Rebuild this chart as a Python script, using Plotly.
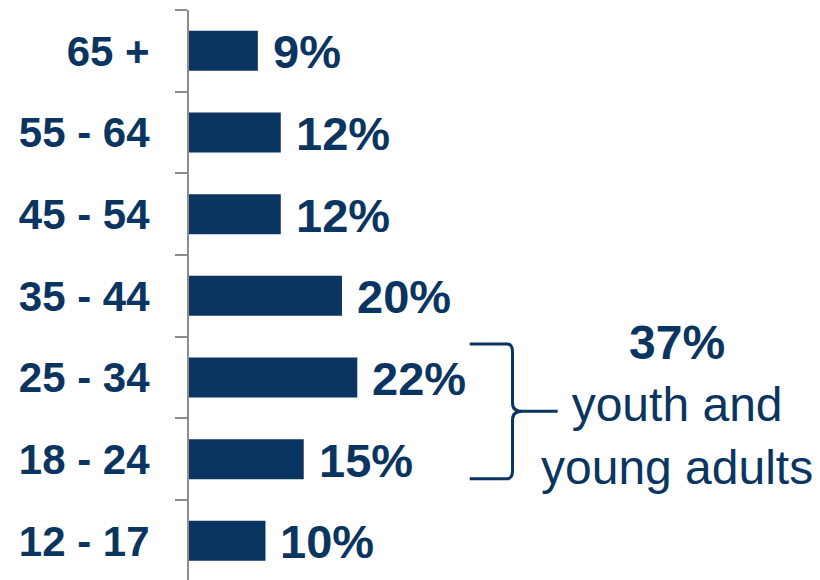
import plotly.graph_objects as go

# Age groups listed bottom-to-top, with the share of each group
age_groups = ["12 - 17", "18 - 24", "25 - 34", "35 - 44", "45 - 54", "55 - 64", "65 +"]
shares = [10, 15, 22, 20, 12, 12, 9]

# Combined share called out for the two youngest adult groups
callout_value = 37
callout_groups = ["18 - 24", "25 - 34"]

NAVY = "#0B3561"
GREY = "#8C8C8C"
FONT = "Liberation Sans, Arial, sans-serif"

fig = go.Figure(
    go.Bar(
        y=age_groups,
        x=shares,
        orientation="h",
        marker=dict(color=NAVY, line=dict(width=0)),
        width=0.49,
        hoverinfo="skip",
    )
)

# Value labels to the right of each bar
for grp, val in zip(age_groups, shares):
    fig.add_annotation(
        x=val, y=grp, xref="x", yref="y",
        text=f"{val}%", showarrow=False,
        xanchor="left", yanchor="middle", xshift=13, yshift=-1,
        font=dict(family=FONT, size=47, color=NAVY, weight="bold"),
    )

# Bracket grouping the 18-24 and 25-34 bars
hi = age_groups.index(callout_groups[1])
lo = age_groups.index(callout_groups[0])
y_top = hi + 0.41
y_bot = lo - 0.24
y_mid = (y_top + y_bot) / 2
dy = 0.1
x0, x1, xv, xtip, xend = 36.7, 41.6, 42.3, 43.6, 48.2
path = (
    f"M {x0},{y_top} L {x1},{y_top} Q {xv},{y_top} {xv},{y_top - dy} "
    f"L {xv},{y_mid + dy} Q {xv},{y_mid} {xtip},{y_mid} L {xend},{y_mid} "
    f"M {xtip},{y_mid} Q {xv},{y_mid} {xv},{y_mid - dy} "
    f"L {xv},{y_bot + dy} Q {xv},{y_bot} {x1},{y_bot} L {x0},{y_bot}"
)
fig.add_shape(type="path", path=path, xref="x", yref="y",
              line=dict(color=NAVY, width=3))

fig.add_annotation(
    x=63.8, y=y_mid, xref="x", yref="y",
    text=f"<b>{callout_value}%</b><br>youth and<br>young adults",
    showarrow=False, align="center", xanchor="center", yanchor="middle",
    yshift=6,
    font=dict(family=FONT, size=48, color=NAVY),
)

fig.update_layout(
    width=820, height=580,
    margin=dict(l=189, r=0, t=10, b=0),
    paper_bgcolor="white", plot_bgcolor="white",
    showlegend=False,
    xaxis=dict(visible=False, range=[0, 82.5], fixedrange=True),
    yaxis=dict(
        type="category",
        categoryorder="array", categoryarray=age_groups,
        range=[-0.48, 6.5],
        showline=True, linecolor=GREY, linewidth=2,
        ticks="outside", tickson="boundaries", ticklen=12,
        tickwidth=2, tickcolor=GREY,
        showgrid=False, zeroline=False,
        ticklabelstandoff=29,
        tickfont=dict(family=FONT, size=42, color=NAVY, weight="bold"),
    ),
)

fig.write_html("out.html")
